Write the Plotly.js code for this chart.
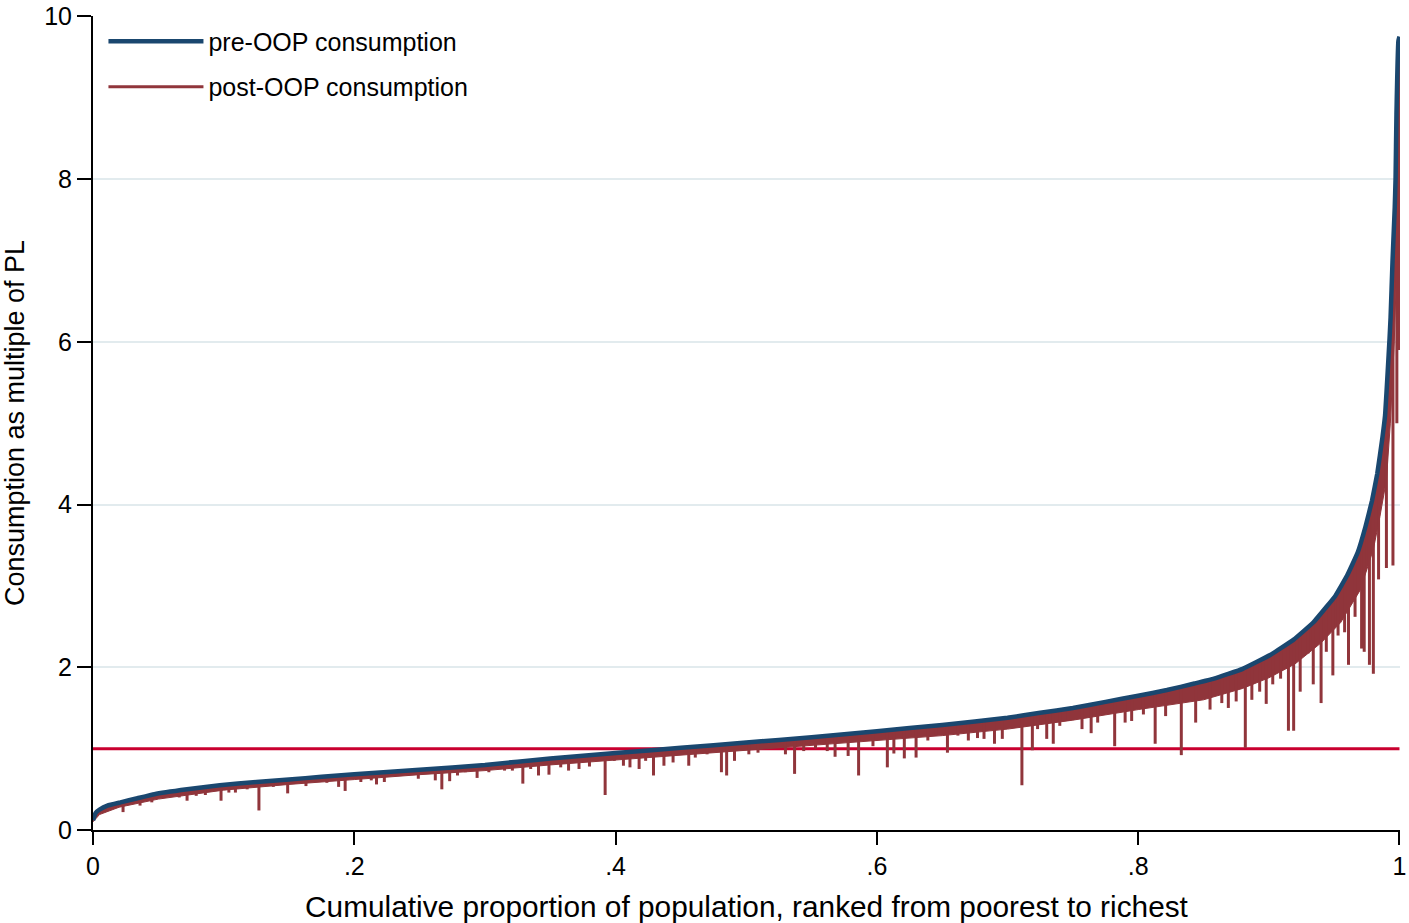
<!DOCTYPE html>
<html>
<head>
<meta charset="utf-8">
<script src="https://cdn.plot.ly/plotly-3.0.1.min.js"></script>
<style>
  html, body { margin: 0; padding: 0; background: #ffffff; }
  #chart { width: 1409px; height: 923px; }
</style>
</head>
<body>
<div id="chart"></div>
<script>
// Pre-OOP consumption curve (Pen's parade), x = cumulative population share
const preX = [0.000, 0.002, 0.005, 0.011, 0.021, 0.034, 0.047, 0.072, 0.097, 0.125,
  0.150, 0.175, 0.200, 0.250, 0.300, 0.350, 0.400, 0.450, 0.500, 0.550,
  0.600, 0.650, 0.700, 0.725, 0.750, 0.775, 0.800, 0.822, 0.843, 0.858,
  0.880, 0.901, 0.919, 0.934, 0.944, 0.951, 0.960, 0.968, 0.974, 0.979,
  0.983, 0.987, 0.989, 0.991, 0.9924, 0.9932, 0.9947, 0.9964, 0.9970, 0.9977,
  0.9992, 1.000];
const preY = [0.12, 0.21, 0.25, 0.30, 0.34, 0.39, 0.44, 0.50, 0.55, 0.59,
  0.62, 0.655, 0.685, 0.74, 0.80, 0.88, 0.945, 1.01, 1.075, 1.14,
  1.215, 1.29, 1.38, 1.44, 1.50, 1.575, 1.65, 1.72, 1.80, 1.86,
  1.98, 2.15, 2.34, 2.55, 2.74, 2.88, 3.13, 3.41, 3.73, 4.05,
  4.38, 4.83, 5.10, 5.64, 6.04, 6.30, 7.00, 7.66, 8.00, 8.80,
  9.70, 9.75];

// Households with visible OOP drops: position, pre-OOP and post-OOP consumption
const hhX = [0.009, 0.023, 0.036, 0.045, 0.066, 0.072, 0.079, 0.086, 0.098, 0.104,
  0.109, 0.118, 0.127, 0.138, 0.149, 0.163, 0.179, 0.188, 0.193, 0.205,
  0.213, 0.217, 0.223, 0.241, 0.249, 0.262, 0.267, 0.273, 0.279, 0.285,
  0.294, 0.303, 0.315, 0.321, 0.329, 0.335, 0.341, 0.349, 0.358, 0.364,
  0.372, 0.380, 0.392, 0.399, 0.406, 0.411, 0.418, 0.423, 0.429, 0.437,
  0.444, 0.456, 0.461, 0.470, 0.481, 0.485, 0.491, 0.502, 0.509, 0.530,
  0.537, 0.544, 0.553, 0.562, 0.568, 0.578, 0.586, 0.597, 0.608, 0.613,
  0.621, 0.630, 0.639, 0.645, 0.654, 0.662, 0.670, 0.677, 0.682, 0.690,
  0.696, 0.711, 0.719, 0.723, 0.730, 0.735, 0.740, 0.746, 0.757, 0.764,
  0.769, 0.782, 0.790, 0.795, 0.804, 0.813, 0.821, 0.833, 0.844, 0.855,
  0.864, 0.869, 0.875, 0.882, 0.887, 0.893, 0.898, 0.903, 0.909, 0.915,
  0.919, 0.924, 0.930, 0.934, 0.940, 0.944, 0.949, 0.953, 0.958, 0.961,
  0.966, 0.971, 0.973, 0.977, 0.980, 0.984, 0.990, 0.995, 0.998, 0.9996];
const hhPre = [0.29, 0.345, 0.40, 0.43, 0.49, 0.50, 0.515, 0.53, 0.55, 0.56,
  0.57, 0.58, 0.59, 0.605, 0.62, 0.64, 0.66, 0.67, 0.68, 0.69,
  0.70, 0.70, 0.71, 0.73, 0.74, 0.755, 0.76, 0.77, 0.775, 0.78,
  0.79, 0.805, 0.82, 0.83, 0.845, 0.855, 0.865, 0.88, 0.89, 0.90,
  0.91, 0.92, 0.935, 0.945, 0.95, 0.96, 0.97, 0.975, 0.98, 0.995,
  1.00, 1.02, 1.025, 1.035, 1.05, 1.055, 1.065, 1.08, 1.085, 1.115,
  1.12, 1.13, 1.145, 1.16, 1.165, 1.18, 1.195, 1.21, 1.225, 1.235,
  1.245, 1.26, 1.275, 1.28, 1.295, 1.31, 1.32, 1.335, 1.345, 1.36,
  1.37, 1.405, 1.425, 1.435, 1.45, 1.46, 1.475, 1.49, 1.52, 1.55,
  1.565, 1.60, 1.62, 1.635, 1.66, 1.69, 1.715, 1.76, 1.80, 1.85,
  1.89, 1.92, 1.95, 1.99, 2.03, 2.08, 2.12, 2.17, 2.23, 2.29,
  2.34, 2.41, 2.49, 2.55, 2.66, 2.74, 2.84, 2.93, 3.07, 3.16,
  3.34, 3.57, 3.68, 3.92, 4.13, 4.49, 5.35, 7.10, 8.90, 9.72];
const hhPost = [0.22, 0.22, 0.30, 0.34, 0.40, 0.36, 0.42, 0.43, 0.36, 0.46,
  0.46, 0.50, 0.24, 0.53, 0.45, 0.54, 0.58, 0.53, 0.48, 0.59,
  0.61, 0.56, 0.59, 0.67, 0.63, 0.61, 0.50, 0.60, 0.67, 0.71,
  0.64, 0.71, 0.73, 0.73, 0.57, 0.75, 0.67, 0.68, 0.77, 0.73,
  0.75, 0.78, 0.43, 0.85, 0.79, 0.77, 0.75, 0.85, 0.67, 0.79,
  0.83, 0.79, 0.89, 0.93, 0.71, 0.67, 0.85, 0.93, 0.95, 0.93,
  0.69, 0.97, 1.00, 0.97, 0.90, 0.91, 0.67, 1.03, 0.77, 0.94,
  0.88, 0.89, 1.10, 1.16, 0.95, 1.16, 1.10, 1.13, 1.12, 1.06,
  1.12, 0.55, 0.98, 1.24, 1.12, 1.06, 1.28, 1.34, 1.24, 1.19,
  1.32, 1.03, 1.32, 1.34, 1.42, 1.06, 1.40, 0.92, 1.32, 1.48,
  1.56, 1.50, 1.58, 1.01, 1.60, 1.70, 1.55, 1.79, 1.86, 1.22,
  1.22, 1.70, 2.17, 1.79, 1.56, 2.19, 1.90, 2.39, 2.43, 2.03,
  2.62, 2.23, 2.19, 2.03, 1.92, 3.08, 3.22, 3.25, 5.00, 5.90];

// Lower edge of the dense band of small post-OOP drops
const bandX = [0.000, 0.005, 0.020, 0.050, 0.100, 0.150, 0.200, 0.250, 0.300, 0.350,
  0.400, 0.450, 0.500, 0.550, 0.600, 0.650, 0.700, 0.750, 0.800, 0.850,
  0.880, 0.900, 0.920, 0.940, 0.955, 0.970, 0.980, 0.985, 0.990, 0.993,
  0.996, 0.998, 1.000];
const bandLow = [0.10, 0.19, 0.28, 0.38, 0.49, 0.56, 0.62, 0.68, 0.73, 0.80,
  0.86, 0.92, 0.98, 1.04, 1.10, 1.16, 1.24, 1.35, 1.48, 1.60,
  1.74, 1.87, 2.04, 2.30, 2.55, 2.95, 3.45, 3.85, 4.30, 5.00,
  6.00, 7.00, 8.70];

const povertyLine = 1;
const xTickVals = [0, 0.2, 0.4, 0.6, 0.8, 1];
const xTickText = ['0', '.2', '.4', '.6', '.8', '1'];
const yTickVals = [0, 2, 4, 6, 8, 10];

const NAVY = '#1a476f';
const MAROON = '#90353b';
const PLRED = '#c9002f';
const FONT = '"Liberation Sans", Arial, Helvetica, sans-serif';

// Build spike segments (pre -> post) for each household
const spikeX = [], spikeY = [];
for (let i = 0; i < hhX.length; i++) {
  spikeX.push(hhX[i], hhX[i], null);
  spikeY.push(hhPre[i], hhPost[i], null);
}

const xMin = xTickVals[0], xMax = xTickVals[xTickVals.length - 1];
const yMin = yTickVals[0], yMax = yTickVals[yTickVals.length - 1];

const traces = [
  { // poverty line
    x: [xMin, xMax], y: [povertyLine, povertyLine],
    type: 'scatter', mode: 'lines', line: { color: PLRED, width: 3 },
    showlegend: false, hoverinfo: 'skip'
  },
  { // invisible pre curve as fill reference
    x: preX, y: preY, type: 'scatter', mode: 'lines',
    line: { color: 'rgba(0,0,0,0)', width: 0 }, showlegend: false, hoverinfo: 'skip'
  },
  { // dense band of post-OOP
    x: bandX, y: bandLow, type: 'scatter', mode: 'lines', fill: 'tonexty',
    fillcolor: MAROON, line: { color: MAROON, width: 1 }, showlegend: false, hoverinfo: 'skip'
  },
  { // post-OOP spikes
    x: spikeX, y: spikeY, type: 'scatter', mode: 'lines', connectgaps: false,
    name: 'post-OOP consumption', legendgroup: 'post', legendrank: 2,
    line: { color: MAROON, width: 3 }
  },
  { // pre-OOP
    x: preX, y: preY, type: 'scatter', mode: 'lines', name: 'pre-OOP consumption',
    legendgroup: 'pre', legendrank: 1,
    line: { color: NAVY, width: 4.5, shape: 'spline', smoothing: 0.3 }
  }
];

const layout = {
  width: 1409, height: 923,
  margin: { l: 93, r: 9, t: 16, b: 93 },
  paper_bgcolor: '#ffffff', plot_bgcolor: '#ffffff',
  font: { family: FONT, color: '#000000', size: 25 },
  showlegend: true,
  legend: {
    x: 0.008, y: 0.997, xanchor: 'left', yanchor: 'top',
    bgcolor: 'rgba(0,0,0,0)', borderwidth: 0,
    font: { family: FONT, size: 25, color: '#000000' },
    itemwidth: 95, tracegroupgap: 10, traceorder: 'grouped'
  },
  xaxis: {
    range: [xMin, xMax + 0.0004], tickvals: xTickVals, ticktext: xTickText,
    showgrid: false, zeroline: false,
    showline: true, linecolor: '#000000', linewidth: 2,
    ticks: 'outside', ticklen: 13, tickwidth: 2, tickcolor: '#000000',
    ticklabeloverflow: 'allow',
    tickfont: { family: FONT, size: 25, color: '#000000' },
    title: { text: 'Cumulative proportion of population, ranked from poorest to richest',
      font: { family: FONT, size: 29.8, color: '#000000' }, standoff: 18 }
  },
  yaxis: {
    range: [yMin, yMax + 0.004], tickvals: yTickVals,
    showgrid: true, gridcolor: '#e2ebee', gridwidth: 2, zeroline: false,
    showline: true, linecolor: '#000000', linewidth: 2,
    ticks: 'outside', ticklen: 14, tickwidth: 2, tickcolor: '#000000',
    ticklabeloverflow: 'allow',
    tickfont: { family: FONT, size: 25, color: '#000000' },
    title: { text: 'Consumption as multiple of PL',
      font: { family: FONT, size: 27, color: '#000000' }, standoff: 12 }
  }
};

Plotly.newPlot('chart', traces, layout, { staticPlot: true, displayModeBar: false });
</script>
</body>
</html>
